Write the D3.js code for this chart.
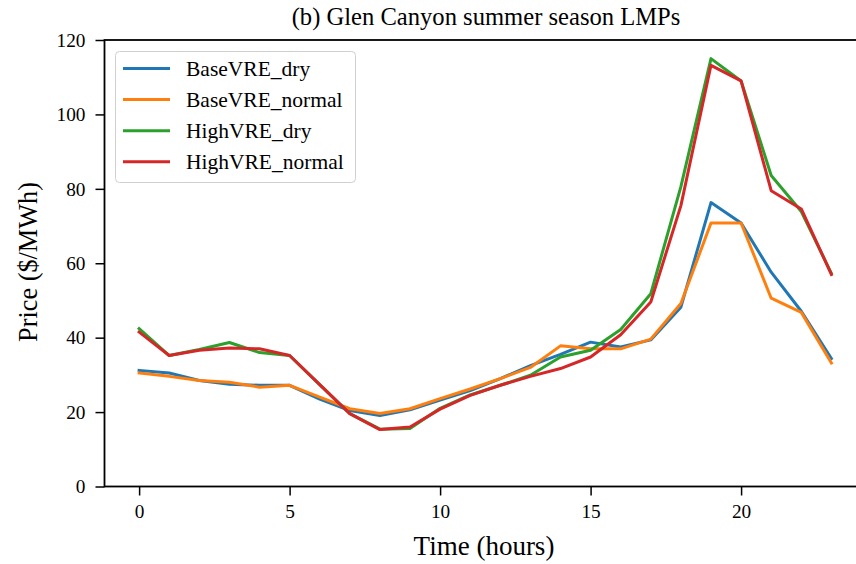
<!DOCTYPE html>
<html><head><meta charset="utf-8">
<script src="https://cdn.jsdelivr.net/npm/d3@7"></script>
<style>body{margin:0;background:#fff}svg{display:block}text{font-family:"Liberation Serif","Times New Roman",serif;fill:#000}</style>
</head><body><svg id="c" width="856" height="564"></svg>
<script>
const hours = d3.range(0,24);
const seriesNames = ["BaseVRE_dry","BaseVRE_normal","HighVRE_dry","HighVRE_normal"];
const seriesColors = ["#1f77b4","#ff7f0e","#2ca02c","#d62728"];
const baseDry    = [31.2,30.5,28.5,27.5,27.2,27.2,23.5,20.4,19.1,20.6,23.2,25.8,29.0,32.5,35.5,38.8,37.5,39.4,48.2,76.3,70.8,57.6,47.1,34.4];
const baseNormal = [30.5,29.6,28.5,28.0,26.7,27.2,24.0,20.9,19.6,20.9,23.6,26.2,29.0,32.0,37.8,37.0,37.0,39.6,49.2,70.8,70.8,50.6,46.8,33.2];
const highDry    = [42.4,35.2,36.8,38.7,36.0,35.2,27.4,19.6,15.4,15.6,21.0,24.6,27.2,29.9,34.8,36.6,42.2,51.8,80.6,115.0,109.0,83.6,73.9,57.3];
const highNormal = [41.5,35.2,36.6,37.2,37.0,35.2,27.4,19.6,15.3,16.0,20.8,24.5,27.2,29.6,31.7,34.8,40.8,49.6,75.5,113.2,109.0,79.5,74.6,57.0];
const seriesValues = [baseDry, baseNormal, highDry, highNormal];
const xTicks = [0,5,10,15,20];
const yTicks = [0,20,40,60,80,100,120];
const title = "(b) Glen Canyon summer season LMPs";
const xLabel = "Time (hours)";
const yLabel = "Price ($/MWh)";

const svg = d3.select("#c");
const L = 104.5, R = 866, T = 40, B = 486.5;
const x = d3.scaleLinear().domain([-1.15, 24.15]).range([L, R]);
const y = d3.scaleLinear().domain([0, 120]).range([B, T]);

const fs = 19.3;
// axes
const gx = svg.append("g").attr("transform", `translate(0,${B})`)
  .call(d3.axisBottom(x).tickValues(xTicks).tickSize(9).tickPadding(9).tickFormat(d3.format("d")));
const gy = svg.append("g").attr("transform", `translate(${L},0)`)
  .call(d3.axisLeft(y).tickValues(yTicks).tickSize(9).tickPadding(10).tickFormat(d3.format("d")));
[gx, gy].forEach(g => {
  g.select(".domain").remove();
  g.selectAll(".tick line").attr("stroke", "#000").attr("stroke-width", 1.5);
  g.selectAll(".tick text").attr("font-size", fs).attr("font-family", "Liberation Serif");
});
// spines
svg.append("rect").attr("x", L).attr("y", T).attr("width", R - L).attr("height", B - T)
  .attr("fill", "none").attr("stroke", "#000").attr("stroke-width", 1.8);

// lines
const line = d3.line().x((d, i) => x(hours[i])).y(d => y(d));
seriesValues.forEach((vals, k) => {
  svg.append("path").datum(vals).attr("d", line).attr("fill", "none")
    .attr("stroke", seriesColors[k]).attr("stroke-width", 3).attr("stroke-linejoin", "round").attr("stroke-linecap", "square");
});

// legend
const lg = svg.append("g");
lg.append("rect").attr("x", 115.5).attr("y", 51.5).attr("width", 240).attr("height", 131).attr("rx", 4)
  .attr("fill", "#fff").attr("fill-opacity", 0.8).attr("stroke", "#d0d0d0").attr("stroke-width", 1);
seriesNames.forEach((n, k) => {
  const yy = 68.5 + k * 31.1;
  lg.append("line").attr("x1", 123).attr("x2", 170).attr("y1", yy).attr("y2", yy)
    .attr("stroke", seriesColors[k]).attr("stroke-width", 3);
  lg.append("text").attr("x", 186).attr("y", yy).attr("dy", "0.35em").attr("font-size", 21.5).text(n);
});

// labels
svg.append("text").attr("x", 486).attr("y", 25).attr("text-anchor", "middle").attr("font-size", 24.6).text(title);
svg.append("text").attr("x", 484).attr("y", 555).attr("text-anchor", "middle").attr("font-size", 27).text(xLabel);
svg.append("text").attr("transform", `translate(37,262) rotate(-90)`).attr("text-anchor", "middle").attr("font-size", 26.3).text(yLabel);
</script></body></html>
